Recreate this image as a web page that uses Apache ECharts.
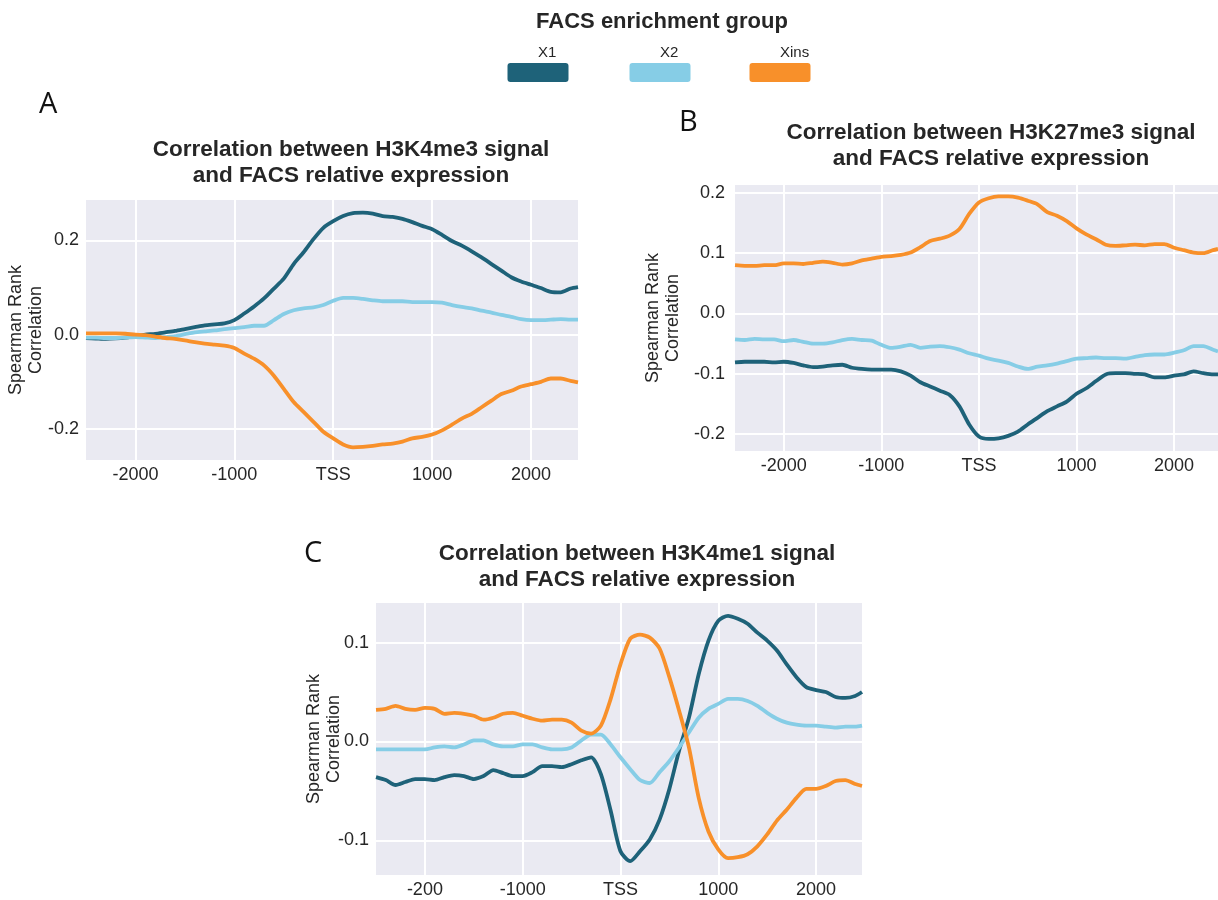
<!DOCTYPE html>
<html>
<head>
<meta charset="utf-8">
<script src="https://cdn.jsdelivr.net/npm/echarts@6/dist/echarts.min.js"></script>
<style>html,body{margin:0;padding:0;background:#fff;}#c{width:1218px;height:900px;}</style>
</head>
<body>
<div id="c"></div>
<script>
// ---------- data ----------
const seriesNames = ['X1', 'X2', 'Xins'];
const seriesColors = ['#1E6279', '#86CDE6', '#F8902A'];
const tickValues = [-2000, -1000, 0, 1000, 2000];
const tickLabelsAB = ['-2000', '-1000', 'TSS', '1000', '2000'];
const tickLabelsC = ['-200', '-1000', 'TSS', '1000', '2000'];

const posA = [-2500,-2400,-2300,-2200,-2100,-2000,-1900,-1800,-1700,-1600,-1500,-1400,-1300,-1200,-1100,-1000,-900,-800,-700,-600,-500,-400,-300,-200,-100,0,100,200,300,400,500,600,700,800,900,1000,1100,1200,1300,1400,1500,1600,1700,1800,1900,2000,2100,2200,2300,2400,2475];
const posB = [-2500,-2400,-2300,-2200,-2100,-2000,-1900,-1800,-1700,-1600,-1500,-1400,-1300,-1200,-1100,-1000,-900,-800,-700,-600,-500,-400,-300,-200,-100,0,100,200,300,400,500,600,700,800,900,1000,1100,1200,1300,1400,1500,1600,1700,1800,1900,2000,2100,2200,2300,2400,2450];
const posC = [-2500,-2400,-2300,-2200,-2100,-2000,-1900,-1800,-1700,-1600,-1500,-1400,-1300,-1200,-1100,-1000,-900,-800,-700,-600,-500,-400,-300,-200,-100,0,100,200,300,400,500,600,700,800,900,1000,1100,1200,1300,1400,1500,1600,1700,1800,1900,2000,2100,2200,2300,2400,2470];

// Panel A: H3K4me3
const aX1 = [-0.007,-0.008,-0.009,-0.008,-0.006,-0.003,0.000,0.002,0.005,0.008,0.012,0.016,0.020,0.022,0.024,0.031,0.045,0.060,0.077,0.098,0.119,0.150,0.175,0.203,0.227,0.241,0.252,0.258,0.259,0.257,0.252,0.250,0.246,0.239,0.231,0.224,0.212,0.199,0.189,0.177,0.164,0.150,0.136,0.122,0.113,0.106,0.099,0.091,0.090,0.098,0.101];
const aX2 = [-0.006,-0.006,-0.007,-0.007,-0.006,-0.005,-0.006,-0.007,-0.005,-0.003,0.001,0.005,0.007,0.009,0.012,0.014,0.016,0.019,0.019,0.031,0.044,0.052,0.056,0.058,0.063,0.072,0.078,0.078,0.076,0.073,0.071,0.071,0.071,0.069,0.069,0.069,0.068,0.063,0.059,0.056,0.051,0.047,0.042,0.038,0.033,0.031,0.031,0.032,0.033,0.032,0.032];
const aXins = [0.003,0.003,0.003,0.003,0.002,0.000,-0.001,-0.004,-0.007,-0.009,-0.012,-0.016,-0.019,-0.021,-0.023,-0.028,-0.040,-0.051,-0.065,-0.087,-0.115,-0.143,-0.164,-0.185,-0.206,-0.220,-0.233,-0.239,-0.238,-0.236,-0.233,-0.231,-0.227,-0.220,-0.217,-0.212,-0.203,-0.191,-0.178,-0.168,-0.154,-0.140,-0.126,-0.119,-0.110,-0.105,-0.100,-0.093,-0.093,-0.098,-0.101];

// Panel B: H3K27me3
const bX1 = [-0.081,-0.080,-0.080,-0.080,-0.081,-0.080,-0.082,-0.086,-0.089,-0.088,-0.086,-0.085,-0.090,-0.092,-0.093,-0.093,-0.093,-0.096,-0.103,-0.114,-0.121,-0.128,-0.135,-0.154,-0.184,-0.204,-0.208,-0.207,-0.203,-0.196,-0.184,-0.173,-0.162,-0.154,-0.146,-0.133,-0.124,-0.112,-0.101,-0.099,-0.099,-0.100,-0.101,-0.106,-0.106,-0.103,-0.101,-0.096,-0.099,-0.101,-0.101];
const bX2 = [-0.043,-0.044,-0.042,-0.043,-0.043,-0.046,-0.044,-0.047,-0.050,-0.050,-0.048,-0.044,-0.042,-0.044,-0.045,-0.052,-0.057,-0.055,-0.052,-0.057,-0.055,-0.054,-0.056,-0.060,-0.066,-0.070,-0.075,-0.078,-0.082,-0.088,-0.092,-0.088,-0.086,-0.083,-0.079,-0.075,-0.074,-0.073,-0.074,-0.074,-0.075,-0.072,-0.069,-0.068,-0.068,-0.065,-0.061,-0.054,-0.054,-0.060,-0.063];
const bXins = [0.080,0.079,0.079,0.080,0.080,0.083,0.083,0.082,0.084,0.086,0.084,0.081,0.083,0.088,0.091,0.094,0.095,0.097,0.101,0.110,0.120,0.124,0.129,0.140,0.165,0.184,0.191,0.194,0.194,0.192,0.187,0.181,0.168,0.162,0.153,0.141,0.131,0.123,0.114,0.112,0.113,0.114,0.113,0.115,0.115,0.109,0.105,0.101,0.100,0.105,0.107];

// Panel C: H3K4me1
const cX1 = [-0.036,-0.039,-0.044,-0.041,-0.038,-0.038,-0.039,-0.036,-0.034,-0.035,-0.038,-0.035,-0.029,-0.032,-0.035,-0.035,-0.031,-0.025,-0.025,-0.026,-0.023,-0.019,-0.016,-0.033,-0.070,-0.111,-0.121,-0.111,-0.099,-0.079,-0.048,-0.009,0.024,0.068,0.102,0.122,0.127,0.124,0.119,0.110,0.102,0.092,0.078,0.065,0.055,0.052,0.050,0.045,0.044,0.046,0.050];
const cX2 = [-0.008,-0.008,-0.008,-0.008,-0.008,-0.008,-0.006,-0.005,-0.006,-0.003,0.001,0.001,-0.003,-0.005,-0.005,-0.003,-0.003,-0.006,-0.008,-0.008,-0.006,0.001,0.007,0.007,-0.003,-0.016,-0.028,-0.039,-0.042,-0.031,-0.020,-0.006,0.009,0.024,0.033,0.038,0.043,0.043,0.041,0.036,0.029,0.023,0.019,0.017,0.016,0.016,0.015,0.014,0.015,0.015,0.016];
const cXins = [0.032,0.033,0.036,0.033,0.032,0.034,0.033,0.028,0.029,0.028,0.026,0.022,0.024,0.028,0.029,0.026,0.023,0.021,0.022,0.022,0.019,0.011,0.008,0.016,0.043,0.078,0.104,0.108,0.105,0.094,0.065,0.031,-0.006,-0.057,-0.091,-0.109,-0.118,-0.117,-0.114,-0.106,-0.094,-0.080,-0.069,-0.057,-0.048,-0.048,-0.045,-0.040,-0.039,-0.043,-0.045];

const yTicksA = [-0.2, 0, 0.2];
const yTicksB = [-0.2, -0.1, 0, 0.1, 0.2];
const yTicksC = [-0.1, 0, 0.1];

// ---------- chart ----------
const TXT = '#262626';
const FONT = '"Liberation Sans", Arial, Helvetica, sans-serif';
const chart = echarts.init(document.getElementById('c'), null, {renderer: 'canvas'});

function zip(xs, ys) { return xs.map((x, i) => [x, ys[i]]); }

const grids = [
  {left: 86, top: 200, width: 492, height: 260},
  {left: 735, top: 185, width: 483, height: 266},
  {left: 376, top: 603, width: 486, height: 272}
];
const xRanges = [[-2500, posA[posA.length-1]], [-2500, posB[posB.length-1]], [-2500, posC[posC.length-1]]];
const yRanges = [[-0.266, 0.286], [-0.228, 0.213], [-0.135, 0.14]];
const yTicks = [yTicksA, yTicksB, yTicksC];
const xLabels = [tickLabelsAB, tickLabelsAB, tickLabelsC];
const yLabelMargins = [7, 10, 7];
const yNameGaps = [60, 72, 52];
const panelData = [
  [zip(posA, aX1), zip(posA, aX2), zip(posA, aXins)],
  [zip(posB, bX1), zip(posB, bX2), zip(posB, bXins)],
  [zip(posC, cX1), zip(posC, cX2), zip(posC, cXins)]
];

const xAxes = grids.map((g, i) => ({
  type: 'value', gridIndex: i, min: xRanges[i][0], max: xRanges[i][1],
  axisLine: {show: false},
  axisTick: {show: false, customValues: tickValues},
  axisLabel: {
    customValues: tickValues, color: TXT, fontSize: 18, fontFamily: FONT, margin: 6,
    formatter: v => xLabels[i][tickValues.indexOf(v)]
  },
  splitLine: {show: true, lineStyle: {color: '#ffffff', width: 2}}
}));
const yAxes = grids.map((g, i) => ({
  type: 'value', gridIndex: i, min: yRanges[i][0], max: yRanges[i][1],
  axisLine: {show: false},
  axisTick: {show: false, customValues: yTicks[i]},
  axisLabel: {
    customValues: yTicks[i], color: TXT, fontSize: 18, fontFamily: FONT, margin: yLabelMargins[i],
    formatter: v => v.toFixed(1)
  },
  splitLine: {show: true, lineStyle: {color: '#ffffff', width: 2}},
  name: 'Spearman Rank\nCorrelation', nameLocation: 'middle', nameRotate: 90,
  nameGap: yNameGaps[i], nameMoveOverlap: false,
  nameTextStyle: {color: TXT, fontSize: 18, fontFamily: FONT, lineHeight: 20, verticalAlign: 'middle'}
}));

const series = [];
panelData.forEach((pd, gi) => {
  pd.forEach((d, si) => {
    series.push({
      type: 'line', name: seriesNames[si], xAxisIndex: gi, yAxisIndex: gi,
      data: d, showSymbol: false, smooth: 0.25, clip: true,
      lineStyle: {color: seriesColors[si], width: 3.8},
      itemStyle: {color: seriesColors[si]}, z: 3 + (si === 0 ? 0 : si), silent: true
    });
  });
});

const titles = [
  {text: 'Correlation between H3K4me3 signal\nand FACS relative expression', left: 346, top: 132},
  {text: 'Correlation between H3K27me3 signal\nand FACS relative expression', left: 986, top: 115},
  {text: 'Correlation between H3K4me1 signal\nand FACS relative expression', left: 632, top: 536}
].map(t => ({
  text: t.text, left: t.left, top: t.top, textAlign: 'center',
  textStyle: {color: TXT, fontSize: 22.5, fontWeight: 'bold', fontFamily: FONT, lineHeight: 26}
}));
titles.push({
  text: 'FACS enrichment group', left: 657, top: 6, textAlign: 'center',
  textStyle: {color: TXT, fontSize: 22, fontWeight: 'bold', fontFamily: FONT}
});

// legend drawn as graphics (labels above rounded swatches)
const legendCenters = [538, 660, 780];
const graphics = [];
seriesNames.forEach((n, i) => {
  graphics.push({type: 'text', left: legendCenters[i], top: 45,
    style: {text: n, fill: TXT, font: '15px ' + FONT, textAlign: 'center'}});
  graphics.push({type: 'rect', shape: {x: legendCenters[i] - 30.5, y: 63, width: 61, height: 19, r: 3},
    style: {fill: seriesColors[i]}});
});
[['A', 39, 90], ['B', 679, 108], ['C', 304, 539]].forEach(p => {
  graphics.push({type: 'text', left: p[1], top: p[2],
    style: {text: p[0], fill: '#111', font: '400 29px "Open Sans", sans-serif'}});
});

chart.setOption({
  backgroundColor: '#ffffff',
  animation: false,
  title: titles,
  grid: grids.map(g => Object.assign({backgroundColor: '#EAEAF2', show: true, borderWidth: 0, containLabel: false}, g)),
  xAxis: xAxes,
  yAxis: yAxes,
  series: series,
  graphic: graphics
});
</script>
</body>
</html>
